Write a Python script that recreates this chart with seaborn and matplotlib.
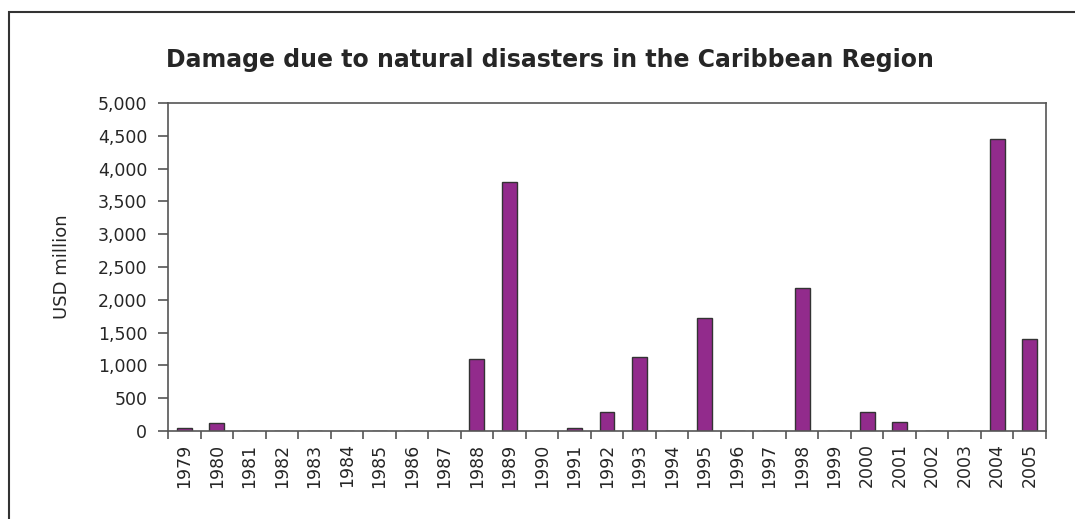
import pandas as pd
import seaborn as sns
from matplotlib import pyplot as plt
from matplotlib.patches import Rectangle
from matplotlib.ticker import FuncFormatter, FixedLocator


# damage per year, USD million
years = [str(y) for y in range(1979, 2006)]
damage = [50, 120, 0, 0, 0, 0, 0, 0, 0, 1100, 3800, 0, 45, 290, 1130,
          0, 1720, 0, 0, 2180, 0, 290, 130, 0, 0, 4450, 1400]

y_ticks = list(range(0, 5001, 500))

bar_color = '#922B8C'
edge_color = '#333333'
text_color = '#262626'

df = pd.DataFrame({'year': years, 'damage': damage})

sns.set_style('white')
# the scan is a bit wide, DejaVu gets closer to its text widths
plt.rcParams['font.family'] = ['DejaVu Sans']

fig = plt.figure(figsize=(10.75, 5.19), dpi=100)
ax = fig.add_axes([0.1563, 0.1696, 0.8167, 0.6319])

sns.barplot(data=df, x='year', y='damage', order=years, color=bar_color,
            width=0.46, edgecolor=edge_color, linewidth=1.0, saturation=1,
            ax=ax)

ax.set_xlim(-0.5, len(years) - 0.5)
ax.set_ylim(0, 5000)
ax.set_yticks(y_ticks)
ax.yaxis.set_major_formatter(FuncFormatter(lambda v, p: f'{int(v):,}'))

# labels in the middle, tick marks on the category boundaries
ax.set_xticks(range(len(years)))
ax.set_xticklabels(years, rotation=90)
ax.xaxis.set_minor_locator(FixedLocator([i - 0.5 for i in range(len(years) + 1)]))
ax.tick_params(axis='x', which='major', length=0, pad=9,
               labelsize=12.5, labelcolor=text_color)
ax.tick_params(axis='x', which='minor', length=6, width=1.2,
               color='#555555', direction='out', bottom=True)
ax.tick_params(axis='y', length=7, width=1.2, color='#555555',
               direction='out', left=True, labelsize=12.5,
               labelcolor=text_color, pad=8)

for s in ax.spines.values():
    s.set_visible(True)
    s.set_color('#555555')
    s.set_linewidth(1.2)

ax.set_xlabel('')
ax.set_ylabel('USD million', fontsize=13, color=text_color)
ax.yaxis.set_label_coords(-0.11, 0.5)

fig.text(0.512, 0.884, 'Damage due to natural disasters in the Caribbean Region',
         ha='center', va='center', fontsize=17, fontweight='bold', color=text_color)

# outer frame, cut off at the right and bottom like the scan
fig.patches.append(Rectangle((9 / 1075, -0.1), 1.2, 0.1 + 1 - 12 / 519,
                             transform=fig.transFigure, fill=False,
                             edgecolor='#333333', linewidth=1.5))

fig.savefig('out.png', dpi=100)
